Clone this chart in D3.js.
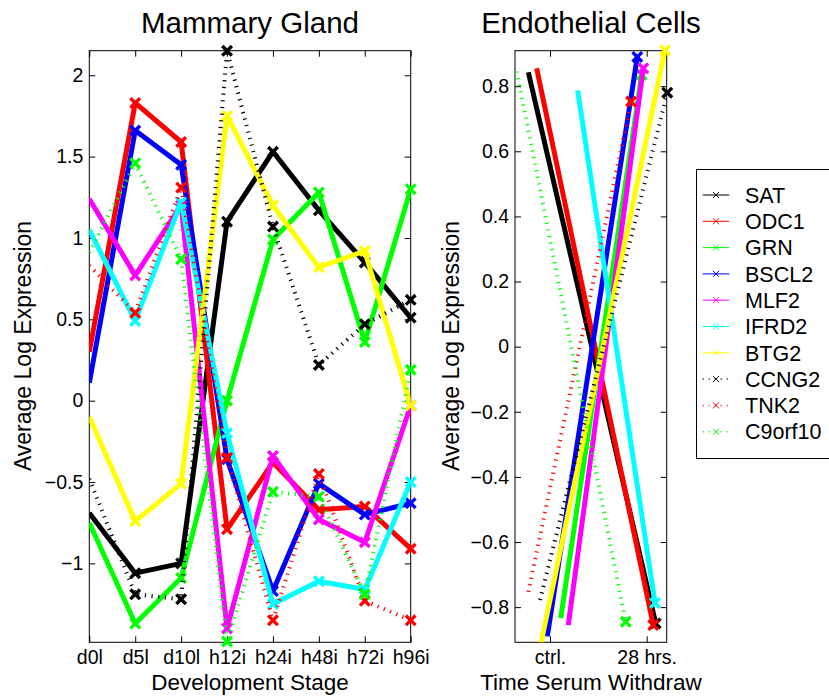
<!DOCTYPE html>
<html>
<head>
<meta charset="utf-8">
<script src="https://cdn.jsdelivr.net/npm/d3@7"></script>
<style>
body { margin: 0; background: #fff; }
svg { display: block; font-family: "Liberation Sans", Arial, Helvetica, sans-serif; }
</style>
</head>
<body>
<svg id="chart" width="829" height="696"></svg>
<script>
// gene names, in legend order
var genes = ["SAT", "ODC1", "GRN", "BSCL2", "MLF2", "IFRD2", "BTG2", "CCNG2", "TNK2", "C9orf10"];
var geneColors = ["#000000", "#ff0000", "#00ff00", "#0000ff", "#ff00ff", "#00ffff", "#ffff00", "#000000", "#ff0000", "#00ff00"];
var geneDotted = [false, false, false, false, false, false, false, true, true, true];

// mammary gland panel
var stages = ["d0l", "d5l", "d10l", "h12i", "h24i", "h48i", "h72i", "h96i"];
var mgTicks = [-1, -0.5, 0, 0.5, 1, 1.5, 2];
var mgSAT     = [-0.69, -1.06, -1.00,  1.10,  1.53,  1.17,  0.85,  0.51];
var mgODC1    = [ 0.30,  1.83,  1.59, -0.79, -0.38, -0.67, -0.65, -0.91];
var mgGRN     = [-0.75, -1.37, -1.09,  0.00,  0.99,  1.28,  0.36,  1.30];
var mgBSCL2   = [ 0.11,  1.66,  1.45, -0.36, -1.17, -0.51, -0.70, -0.63];
var mgMLF2    = [ 1.24,  0.77,  1.20, -1.40, -0.34, -0.73, -0.87, -0.03];
var mgIFRD2   = [ 1.05,  0.49,  1.22, -0.20, -1.25, -1.11, -1.16, -0.50];
var mgBTG2    = [-0.10, -0.74, -0.51,  1.75,  1.20,  0.82,  0.92, -0.03];
var mgCCNG2   = [-0.48, -1.19, -1.22,  2.15,  1.07,  0.22,  0.47,  0.62];
var mgTNK2    = [ 0.83,  0.54,  1.31, -0.35, -1.35, -0.45, -1.23, -1.35];
var mgC9orf10 = [ 0.91,  1.46,  0.87, -1.48, -0.56, -0.59, -1.19,  0.19];
var mgSeries = [mgSAT, mgODC1, mgGRN, mgBSCL2, mgMLF2, mgIFRD2, mgBTG2, mgCCNG2, mgTNK2, mgC9orf10];

// endothelial cells panel (x: 1 = ctrl., 2 = 28 hrs.)
var ecTimes = ["ctrl.", "28 hrs."];
var ecTicks = [-0.8, -0.6, -0.4, -0.2, 0, 0.2, 0.4, 0.6, 0.8];
var ecCtrl   = [ 0.843,  0.855, -0.834, -0.890, -0.855,  0.787, -0.910, -0.778, -0.753,  0.845];
var ec28h    = [-0.850, -0.855,  0.835,  0.890,  0.855, -0.787,  0.910,  0.780,  0.753, -0.845];
var ecXCtrl  = [ 0.776,  0.862,  1.111,  0.972,  1.189,  1.286,  0.907,  0.897,  0.776,  0.656];
var ecX28h   = [ 2.093,  2.068,  1.948,  1.903,  1.965,  2.086,  2.189,  2.213,  1.838,  1.783];

var svg = d3.select("#chart");
var plotTop = 50.7, plotBottom = 642.3;

function fmt(d) {
	return d < 0 ? "\u2212" + Math.abs(d) : String(d);
}

function xMark(g, color, r, w) {
	g.append("path")
	.attr("d", "M" + (-r) + "," + (-r) + "L" + r + "," + r + "M" + (-r) + "," + r + "L" + r + "," + (-r))
	.attr("stroke", color)
	.attr("stroke-width", w)
	.attr("fill", "none");
}

function drawFrame(g, x, y, x0, x1, xTicks, xFormat, yTicks, id) {
	g.append("g").attr("transform", "translate(" + x0 + ",0)")
	.call(d3.axisLeft(y).tickValues(yTicks).tickSize(-6).tickPadding(6).tickFormat(fmt));
	g.append("g").attr("transform", "translate(" + x1 + ",0)")
	.call(d3.axisRight(y).tickValues(yTicks).tickSize(-6).tickFormat(""));
	g.append("g").attr("transform", "translate(0," + plotBottom + ")")
	.call(d3.axisBottom(x).tickValues(xTicks).tickSize(-6).tickPadding(8).tickFormat(xFormat));
	g.append("g").attr("transform", "translate(0," + plotTop + ")")
	.call(d3.axisTop(x).tickValues(xTicks).tickSize(-6).tickFormat(""));
	g.selectAll(".domain").remove();
	g.selectAll(".tick line").attr("stroke", "#000");
	g.selectAll(".tick text").attr("fill", "#000").style("font-size", "19.5px").style("font-family", "inherit");
	g.append("rect")
	.attr("x", x0).attr("y", plotTop)
	.attr("width", x1 - x0).attr("height", plotBottom - plotTop)
	.attr("fill", "none").attr("stroke", "#000").attr("stroke-width", 1);
	svg.append("clipPath").attr("id", id)
	.append("rect").attr("x", x0).attr("y", plotTop).attr("width", x1 - x0).attr("height", plotBottom - plotTop);
}

function drawSeries(g, pts, i, clipId) {
	var color = geneColors[i];
	var line = d3.line().x(function(d) { return d[0]; }).y(function(d) { return d[1]; });
	g.append("path")
	.attr("d", line(pts))
	.attr("clip-path", "url(#" + clipId + ")")
	.attr("fill", "none")
	.attr("stroke", color)
	.attr("stroke-width", geneDotted[i] ? 4 : 5)
	.attr("stroke-dasharray", geneDotted[i] ? "1.2,5.5" : null)
	.attr("stroke-linejoin", "round");
	// no marker on the first point
	pts.slice(1).forEach(function(p) {
		var m = g.append("g").attr("transform", "translate(" + p[0] + "," + p[1] + ")");
		xMark(m, color, 4.8, 3.4);
	});
}

// ---------- Mammary Gland ----------
var mgX = d3.scalePoint().domain(stages).range([89.3, 410.7]);
var mgY = d3.scaleLinear().domain([-1.485, 2.151]).range([plotBottom, plotTop]);
var mg = svg.append("g");
drawFrame(mg, mgX, mgY, 89.3, 410.7, stages, function(d) { return d; }, mgTicks, "clipMG");
mgSeries.forEach(function(vals, i) {
	var pts = vals.map(function(v, j) { return [mgX(stages[j]), mgY(v)]; });
	drawSeries(mg, pts, i, "clipMG");
});

// ---------- Endothelial Cells ----------
var ecX = d3.scaleLinear().domain([0.638, 2.207]).range([515, 666.7]);
var ecY = d3.scaleLinear().domain([-0.908, 0.909]).range([plotBottom, plotTop]);
var ec = svg.append("g");
drawFrame(ec, ecX, ecY, 515, 666.7, [1, 2], function(d) { return ecTimes[d - 1]; }, ecTicks, "clipEC");
genes.forEach(function(name, i) {
	var pts = [[ecX(ecXCtrl[i]), ecY(ecCtrl[i])], [ecX(ecX28h[i]), ecY(ec28h[i])]];
	drawSeries(ec, pts, i, "clipEC");
});

// ---------- titles and labels ----------
svg.append("text").attr("x", 250).attr("y", 33).attr("text-anchor", "middle")
.style("font-size", "29.5px").text("Mammary Gland");
svg.append("text").attr("x", 591).attr("y", 33).attr("text-anchor", "middle")
.style("font-size", "29.5px").text("Endothelial Cells");
svg.append("text").attr("x", 250).attr("y", 690).attr("text-anchor", "middle")
.style("font-size", "22.5px").text("Development Stage");
svg.append("text").attr("x", 591).attr("y", 690).attr("text-anchor", "middle")
.style("font-size", "22.5px").text("Time Serum Withdraw");
svg.append("text").attr("transform", "translate(31,346) rotate(-90)").attr("text-anchor", "middle")
.style("font-size", "23px").text("Average Log Expression");
svg.append("text").attr("transform", "translate(459,346) rotate(-90)").attr("text-anchor", "middle")
.style("font-size", "23px").text("Average Log Expression");

// ---------- legend ----------
var legend = svg.append("g").attr("class", "legend");
legend.append("rect")
.attr("x", 696.5).attr("y", 169.5).attr("width", 140).attr("height", 289)
.attr("fill", "#fff").attr("stroke", "#000").attr("stroke-width", 1);
var rowY0 = 195, rowStep = 26.3;
genes.forEach(function(name, i) {
	var y = rowY0 + i * rowStep;
	legend.append("line")
	.attr("x1", 702.7).attr("x2", 729.3).attr("y1", y).attr("y2", y)
	.attr("stroke", geneColors[i])
	.attr("stroke-width", geneDotted[i] ? 1.5 : 1)
	.attr("stroke-dasharray", geneDotted[i] ? "1,5" : null);
	var m = legend.append("g").attr("transform", "translate(716," + y + ")");
	xMark(m, geneColors[i], 3, 1);
	legend.append("text")
	.attr("x", 745).attr("y", y).attr("dy", "0.36em")
	.style("font-size", "21.5px")
	.text(name);
});
</script>
</body>
</html>
